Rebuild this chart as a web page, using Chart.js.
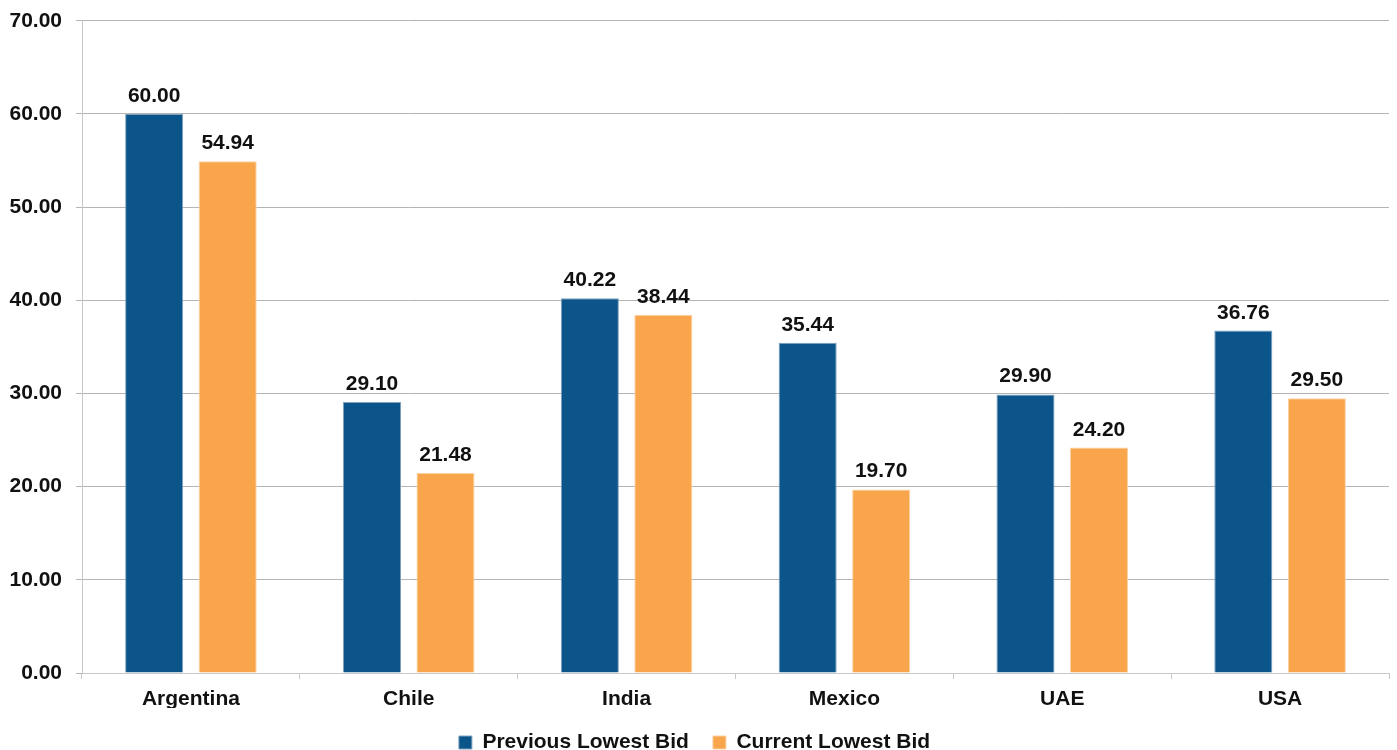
<!DOCTYPE html>
<html>
<head>
<meta charset="utf-8">
<script src="https://cdn.jsdelivr.net/npm/chart.js@4.4.1/dist/chart.umd.min.js"></script>
<style>
  html, body { margin: 0; padding: 0; background: #fff; }
  #wrap { width: 1397px; height: 750px; }
</style>
</head>
<body>
<div id="wrap"><canvas id="bids" width="1397" height="750"></canvas></div>
<script>
const COUNTRIES = ['Argentina', 'Chile', 'India', 'Mexico', 'UAE', 'USA'];
const PREVIOUS_BID = [60.00, 29.10, 40.22, 35.44, 29.90, 36.76];
const CURRENT_BID = [54.94, 21.48, 38.44, 19.70, 24.20, 29.50];
const Y_MIN = 0;
const Y_MAX = 70;
const Y_STEP = 10;

const FONT = '"Liberation Sans", Arial, sans-serif';

// draws the value above each bar
const valueLabels = {
  id: 'valueLabels',
  afterDatasetsDraw(chart) {
    const ctx = chart.ctx;
    ctx.save();
    ctx.font = 'bold 21px ' + FONT;
    ctx.fillStyle = '#111';
    ctx.textAlign = 'center';
    ctx.textBaseline = 'alphabetic';
    chart.data.datasets.forEach((ds, i) => {
      chart.getDatasetMeta(i).data.forEach((bar, j) => {
        ctx.fillText(ds.data[j].toFixed(2), bar.x, bar.y - 12);
      });
    });
    ctx.restore();
  },
};

new Chart(document.getElementById('bids'), {
  type: 'bar',
  data: {
    labels: COUNTRIES,
    datasets: [
      { label: 'Previous Lowest Bid', data: PREVIOUS_BID, backgroundColor: '#0b558b', borderColor: '#7fa3c0', borderWidth: 1 },
      { label: 'Current Lowest Bid', data: CURRENT_BID, backgroundColor: '#f9a54b', borderColor: '#fcd2a4', borderWidth: 1 },
    ],
  },
  options: {
    responsive: false,
    animation: false,
    categoryPercentage: 0.675,
    barPercentage: 0.79,
    layout: { padding: { top: 0, right: 8, left: 0, bottom: -13 } },
    plugins: {
      legend: {
        position: 'bottom',
        labels: {
          font: { family: FONT, size: 21, weight: 'bold' },
          color: '#111',
          boxWidth: 13,
          boxHeight: 13,
          padding: 24,
        },
      },
      tooltip: { enabled: false },
    },
    scales: {
      x: {
        grid: { display: true, drawOnChartArea: false, offset: true, tickLength: 6, color: '#c8c8c8' },
        border: { color: '#c8c8c8' },
        ticks: { font: { family: FONT, size: 21, weight: 'bold' }, color: '#111', padding: 8 },
        afterFit: (scale) => { scale.height = 35; },
      },
      y: {
        min: Y_MIN,
        max: Y_MAX,
        grid: { color: '#b4b4b4', tickLength: 6 },
        border: { color: '#c8c8c8' },
        ticks: {
          stepSize: Y_STEP,
          font: { family: FONT, size: 21, weight: 'bold', lineHeight: 0.65 },
          color: '#111',
          padding: 14,
          callback: (v) => v.toFixed(2),
        },
        afterFit: (scale) => { scale.width = 82; },
      },
    },
  },
  plugins: [valueLabels],
});
</script>
</body>
</html>
